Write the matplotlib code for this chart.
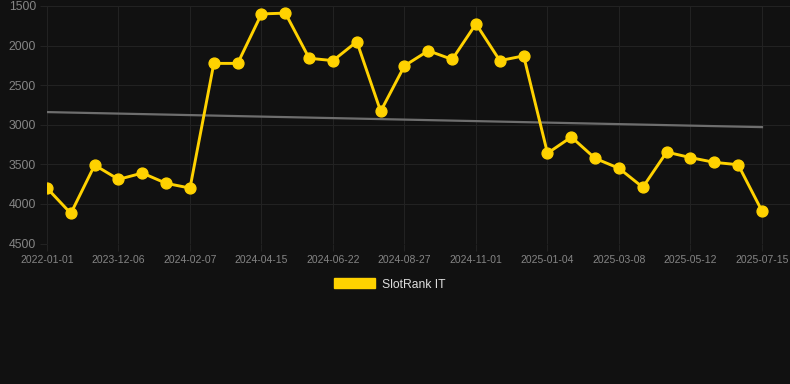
import matplotlib
matplotlib.use("Agg")
import matplotlib.pyplot as plt
from matplotlib.patches import Patch
import numpy as np

plt.rcParams['font.family'] = ['Liberation Sans', 'DejaVu Sans']

tick_labels = ["2022-01-01", "2023-12-06", "2024-02-07", "2024-04-15", "2024-06-22",
               "2024-08-27", "2024-11-01", "2025-01-04", "2025-03-08", "2025-05-12",
               "2025-07-15"]
rank_values = [3800, 4120, 3510, 3690, 3610, 3740, 3800, 2225, 2225, 1600,
               1590, 2160, 2190, 1950, 2830, 2255, 2065, 2175, 1725, 2190,
               2130, 3360, 3155, 3425, 3550, 3790, 3345, 3415, 3475, 3505,
               4090]
trend_values = [2840, 3030]
series_name = "SlotRank IT"

bg = "#111111"
fig = plt.figure(figsize=(7.9, 3.84), dpi=100, facecolor=bg)
ax = fig.add_axes([47/790, 1 - 243.5/384, 1 - 47/790, (243.5 - 6)/384])
ax.set_facecolor(bg)

x = np.arange(len(rank_values))
ax.plot([x[0], x[-1]], trend_values, color="#6e6e6e", lw=1.6, zorder=2)
ax.plot(x, rank_values, color="#FFD200", lw=2.1, marker="o", markersize=7.8,
        markerfacecolor="#FFD200", markeredgecolor="#FFD200", zorder=3)

ax.set_ylim(4500, 1500)
ax.set_yticks([1500, 2000, 2500, 3000, 3500, 4000, 4500])
ax.set_xlim(0, 30 + 28/23.83)
tick_pos = np.arange(0, len(rank_values), 3)
ax.set_xticks(tick_pos)
ax.set_xticklabels(tick_labels)

ax.grid(True, color="#222222", lw=0.8)
for s in ax.spines.values():
    s.set_visible(False)
ax.tick_params(axis="y", colors="#222222", labelcolor="#858585", labelsize=8.8, length=5, width=0.8, pad=3)
ax.tick_params(axis="x", colors="#222222", labelcolor="#858585", labelsize=7.5, length=5, width=0.8, pad=3)

handle = Patch(facecolor="#FFD200", edgecolor="#FFD200")
leg = fig.legend([handle], [series_name], loc="center", bbox_to_anchor=(390/790, 1 - 284.5/384),
                 frameon=False, handlelength=3.35, handleheight=0.85, handletextpad=0.6,
                 fontsize=8.7, labelcolor="#dddddd")

fig.savefig("out.png", dpi=100, facecolor=bg)
